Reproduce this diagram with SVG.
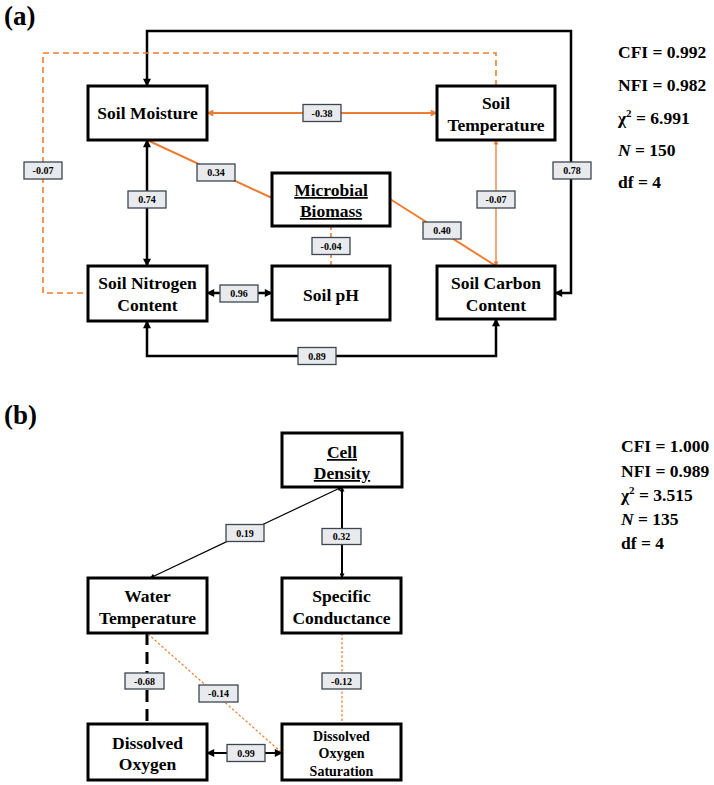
<svg xmlns="http://www.w3.org/2000/svg" width="714" height="785" viewBox="0 0 714 785">
<style>
text{font-family:"Liberation Serif","Times New Roman",serif;font-weight:bold;fill:#000}
.node rect{fill:#fff;stroke:#000;stroke-width:3}
.nt{font-size:17.5px;text-anchor:middle}
.st{font-size:14px;text-anchor:middle}
.stat{font-size:17.5px}
.lab rect{fill:#e8eaed;stroke:#3c4650;stroke-width:1.3}
.lab text{font-size:10px;text-anchor:middle}
.blk{fill:none;stroke:#000;stroke-width:2.5}
.blk2{fill:none;stroke:#000;stroke-width:2}
.thin{fill:none;stroke:#000;stroke-width:1.2}
.org{fill:none;stroke:#ED7D31;stroke-width:2}
.orgt{fill:none;stroke:#ED7D31;stroke-width:1.3}
.orgd{fill:none;stroke:#ED7D31;stroke-width:1.6;stroke-dasharray:6 4}
.orgdot{fill:none;stroke:#ED7D31;stroke-width:1.2;stroke-dasharray:2.5 2}
.bdash{fill:none;stroke:#000;stroke-width:3;stroke-dasharray:12 7}
</style>
<defs>
<marker id="ab" viewBox="0 0 10 10" refX="9" refY="5" markerWidth="9" markerHeight="8" markerUnits="userSpaceOnUse" orient="auto-start-reverse"><path d="M0,0 L10,5 L0,10 z" fill="#000"/></marker>
<marker id="abs" viewBox="0 0 10 10" refX="9" refY="5" markerWidth="6" markerHeight="5" markerUnits="userSpaceOnUse" orient="auto-start-reverse"><path d="M0,0 L10,5 L0,10 z" fill="#000"/></marker>
<marker id="ao" viewBox="0 0 10 10" refX="9" refY="5" markerWidth="8" markerHeight="7" markerUnits="userSpaceOnUse" orient="auto-start-reverse"><path d="M0,0 L10,5 L0,10 z" fill="#ED7D31"/></marker>
<marker id="aos" viewBox="0 0 10 10" refX="9" refY="5" markerWidth="6" markerHeight="5" markerUnits="userSpaceOnUse" orient="auto-start-reverse"><path d="M0,0 L10,5 L0,10 z" fill="#ED7D31"/></marker>
</defs>

<text x="4" y="25" style="font-size:27px">(a)</text>
<text x="4" y="424" style="font-size:27px">(b)</text>

<g id="connectors">
<!-- panel a -->
<path class="blk" d="M555,293 H571 V31 H147 V86" marker-start="url(#ab)" marker-end="url(#ab)"/>
<path class="orgd" d="M496,86 V53 H43 V293 H88"/>
<path class="org" d="M207,113 H437" marker-start="url(#ao)" marker-end="url(#ao)"/>
<path class="org" d="M147,140 L272,198"/>
<path class="org" d="M390,199 L496,266"/>
<path class="orgt" d="M496,140 V266" marker-start="url(#aos)" marker-end="url(#aos)"/>
<path class="blk" d="M147,140 V266" marker-start="url(#ab)" marker-end="url(#ab)"/>
<path class="blk" d="M207,293 H272" marker-start="url(#ab)" marker-end="url(#ab)"/>
<path class="orgd" d="M331,226 V266" style="stroke-dasharray:4 3"/>
<path class="blk" d="M147,321 V356 H496 V319" marker-start="url(#ab)" marker-end="url(#ab)"/>
<!-- panel b -->
<path class="thin" d="M342,487 L150,578" marker-start="url(#abs)" marker-end="url(#abs)"/>
<path class="blk2" d="M342,487 V578" marker-start="url(#abs)" marker-end="url(#abs)"/>
<path class="bdash" d="M147,633 V724"/>
<path class="orgdot" d="M148,634 L282,753"/>
<path class="orgdot" d="M342,633 V724"/>
<path class="blk2" d="M207,753 H282" marker-start="url(#ab)" marker-end="url(#ab)"/>
</g>

<g id="labels" class="lab">
<rect x="303" y="104.5" width="38" height="17"/><text x="322" y="116.5">-0.38</text>
<rect x="24" y="162" width="38" height="17"/><text x="43" y="174">-0.07</text>
<rect x="553" y="162" width="38" height="17"/><text x="572" y="174">0.78</text>
<rect x="197" y="164" width="38" height="17"/><text x="216" y="176">0.34</text>
<rect x="128" y="191" width="38" height="17"/><text x="147" y="203">0.74</text>
<rect x="477" y="191" width="38" height="17"/><text x="496" y="203">-0.07</text>
<rect x="423" y="222" width="38" height="17"/><text x="442" y="234">0.40</text>
<rect x="312" y="237.5" width="38" height="17"/><text x="331" y="249.5">-0.04</text>
<rect x="220" y="285" width="38" height="17"/><text x="239" y="297">0.96</text>
<rect x="298" y="347.5" width="38" height="17"/><text x="317" y="359.5">0.89</text>
<rect x="226" y="524.5" width="38" height="17"/><text x="245" y="536.5">0.19</text>
<rect x="322" y="528.5" width="39" height="16"/><text x="341.5" y="540">0.32</text>
<rect x="125" y="673" width="39" height="16"/><text x="144.5" y="684.5">-0.68</text>
<rect x="199" y="685" width="39" height="17"/><text x="218.5" y="697">-0.14</text>
<rect x="322" y="673" width="39" height="16"/><text x="341.5" y="684.5">-0.12</text>
<rect x="227" y="744.5" width="38" height="17"/><text x="246" y="756.5">0.99</text>
</g>

<g id="soil-moisture" class="node"><rect x="88" y="86" width="119" height="54"/><text class="nt" x="147.5" y="119">Soil Moisture</text></g>
<g id="soil-temperature" class="node"><rect x="437" y="86" width="118" height="54"/><text class="nt" x="496" y="109">Soil</text><text class="nt" x="496" y="131">Temperature</text></g>
<g id="microbial-biomass" class="node"><rect x="272" y="173" width="118" height="53"/><text class="nt" x="331" y="196" text-decoration="underline">Microbial</text><text class="nt" x="331" y="217" text-decoration="underline">Biomass</text></g>
<g id="soil-nitrogen" class="node"><rect x="88" y="266" width="119" height="55"/><text class="nt" x="147.5" y="289">Soil Nitrogen</text><text class="nt" x="147.5" y="311">Content</text></g>
<g id="soil-ph" class="node"><rect x="272" y="266" width="118" height="54"/><text class="nt" x="331" y="301">Soil pH</text></g>
<g id="soil-carbon" class="node"><rect x="437" y="266" width="118" height="53"/><text class="nt" x="496" y="289">Soil Carbon</text><text class="nt" x="496" y="311">Content</text></g>

<g id="cell-density" class="node"><rect x="282" y="433" width="120" height="54"/><text class="nt" x="342" y="458" text-decoration="underline">Cell</text><text class="nt" x="342" y="479" text-decoration="underline">Density</text></g>
<g id="water-temperature" class="node"><rect x="88" y="578" width="119" height="55"/><text class="nt" x="147.5" y="602">Water</text><text class="nt" x="147.5" y="624">Temperature</text></g>
<g id="specific-conductance" class="node"><rect x="282" y="578" width="119" height="55"/><text class="nt" x="341.5" y="602">Specific</text><text class="nt" x="341.5" y="624">Conductance</text></g>
<g id="dissolved-oxygen" class="node"><rect x="88" y="724" width="119" height="56"/><text class="nt" x="147.5" y="749">Dissolved</text><text class="nt" x="147.5" y="770">Oxygen</text></g>
<g id="do-saturation" class="node"><rect x="282" y="724" width="119" height="56"/><text class="st" x="341.5" y="741">Dissolved</text><text class="st" x="341.5" y="758">Oxygen</text><text class="st" x="341.5" y="776">Saturation</text></g>

<g id="stats-a" class="stat">
<text class="stat" x="618" y="58">CFI = 0.992</text>
<text class="stat" x="618" y="91">NFI = 0.982</text>
<text class="stat" x="618" y="124">χ<tspan dy="-7" style="font-size:11px">2</tspan><tspan dy="7"> = 6.991</tspan></text>
<text class="stat" x="618" y="156"><tspan font-style="italic">N</tspan> = 150</text>
<text class="stat" x="618" y="188">df = 4</text>
</g>
<g id="stats-b">
<text class="stat" x="621" y="452">CFI = 1.000</text>
<text class="stat" x="621" y="477">NFI = 0.989</text>
<text class="stat" x="621" y="501">χ<tspan dy="-7" style="font-size:11px">2</tspan><tspan dy="7"> = 3.515</tspan></text>
<text class="stat" x="621" y="525"><tspan font-style="italic">N</tspan> = 135</text>
<text class="stat" x="621" y="549">df = 4</text>
</g>
</svg>
